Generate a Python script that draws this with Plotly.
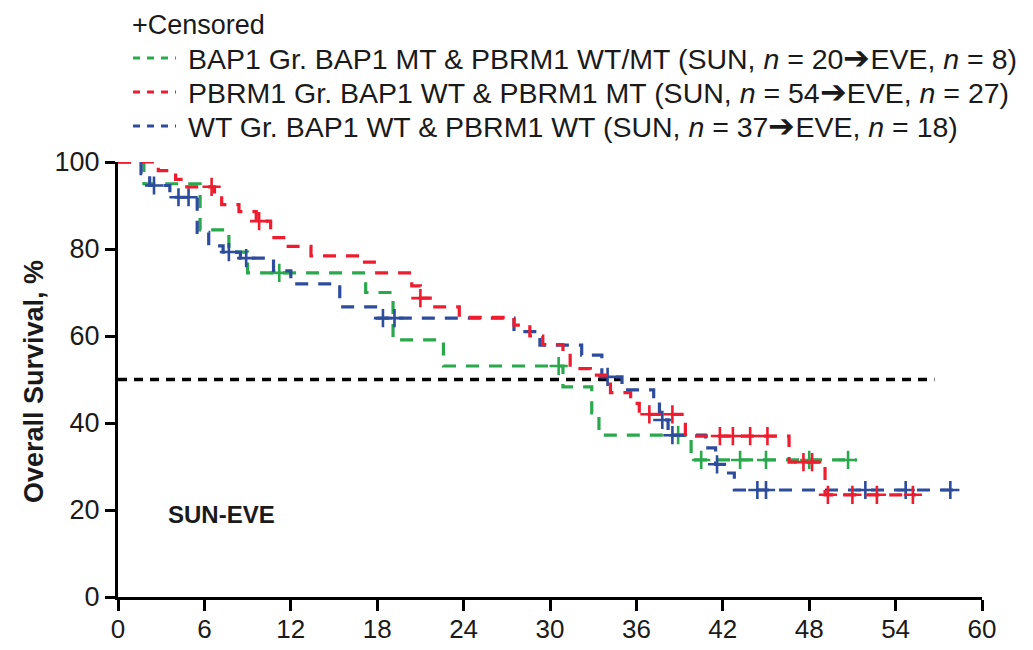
import plotly.graph_objects as go

# ---- data ----
red_t = [0, 2.8, 4.0, 4.6, 6.7, 7.2, 8.4, 9.6, 10.6, 11.7, 13.4, 17.0, 17.8, 20.4, 21.0, 22.0, 23.7, 27.5, 28.6, 29.5, 30.9, 31.4, 32.8, 34.2, 35.6, 36.2, 39.4, 46.6, 49.1, 55.4]
red_s = [100, 98, 96, 94.3, 92.4, 90.2, 88.6, 86.4, 82.6, 80.6, 78.4, 77, 74.5, 71.5, 68.7, 66.7, 64.3, 62.5, 60, 58, 56.5, 52.5, 51, 47, 44.5, 42, 37, 31, 23.5, 23.5]
red_ct = [6.5, 9.8, 21.0, 36.9, 38.5, 41.8, 42.7, 43.9, 45.1, 47.6, 48.2, 49.3, 51.0, 52.7, 55.2]
red_cs = [94.3, 86.4, 68.7, 42, 42, 37, 37, 37, 37, 31, 31, 23.5, 23.5, 23.5, 23.5]

green_t = [0, 1.8, 5.7, 7.7, 9.0, 17.2, 19.1, 22.6, 30.9, 32.9, 33.4, 39.8, 51.3]
green_s = [100, 95, 84.4, 79.3, 74.5, 70, 59.1, 53.1, 48.3, 42.3, 37.2, 31.5, 31.5]
green_ct = [11.2, 30.6, 38.9, 40.5, 43.2, 45.0, 48.0, 50.7]
green_cs = [74.5, 53.1, 37.2, 31.5, 31.5, 31.5, 31.5, 31.5]

blue_t = [0, 1.6, 2.2, 3.6, 5.5, 6.3, 7.3, 8.5, 10.8, 12.0, 15.4, 18.0, 27.5, 29.3, 32.2, 33.6, 35.0, 37.2, 37.6, 38.2, 40.8, 41.5, 42.4, 42.8, 58.4]
blue_s = [100, 97.3, 94.6, 91.9, 83.8, 80.7, 79.3, 77.9, 75, 72, 66.7, 64.1, 61, 57.9, 55.6, 50.6, 47.6, 44.8, 40.7, 37.2, 34.3, 30.5, 28.5, 24.6, 24.6]
blue_ct = [2.5, 4.2, 4.9, 7.7, 8.9, 18.4, 19.2, 34.0, 37.8, 38.5, 41.6, 44.4, 45.0, 51.9, 54.7, 57.8]
blue_cs = [94.6, 91.9, 91.9, 79.3, 77.9, 64.1, 64.1, 50.6, 40.7, 37.2, 30.5, 24.6, 24.6, 24.6, 24.6, 24.6]

x_ticks = [0, 6, 12, 18, 24, 30, 36, 42, 48, 54, 60]
y_ticks = [0, 20, 40, 60, 80, 100]
median_line = [0, 56.7]

ARROW = "<span style='font-size:32px'>➔</span>"
legend_labels = [
    "BAP1 Gr. BAP1 MT &amp; PBRM1 WT/MT (SUN, <i>n</i> = 20" + ARROW + "EVE, <i>n</i> = 8)",
    "PBRM1 Gr. BAP1 WT &amp; PBRM1 MT (SUN, <i>n</i> = 54" + ARROW + "EVE, <i>n</i> = 27)",
    "WT Gr. BAP1 WT &amp; PBRM1 WT (SUN, <i>n</i> = 37" + ARROW + "EVE, <i>n</i> = 18)",
]

GREEN = "#2aa84c"
RED = "#ee1c2e"
BLUE = "#2d4c9c"
colors = [GREEN, RED, BLUE]

fig = go.Figure()

fig.add_trace(go.Scatter(x=median_line, y=[50, 50], mode="lines",
                         line=dict(color="black", width=3.4, dash="9px,7px"),
                         hoverinfo="skip", showlegend=False))

for t, s, ct, cs, c in [(green_t, green_s, green_ct, green_cs, GREEN),
                        (blue_t, blue_s, blue_ct, blue_cs, BLUE),
                        (red_t, red_s, red_ct, red_cs, RED)]:
    fig.add_trace(go.Scatter(x=t, y=s, mode="lines", line_shape="hv",
                             line=dict(color=c, width=3.2, dash="13px,10px"),
                             showlegend=False))
    fig.add_trace(go.Scatter(x=ct, y=cs, mode="markers",
                             marker=dict(symbol="cross-thin", size=13, line=dict(color=c, width=2.6)),
                             showlegend=False))

# page pixel -> paper helpers (page has an 8px body margin)
OFF = 8
X0, X1, Y0, Y1 = 118, 982, 597, 162
W, H = 1033 - OFF, 650 - OFF
def px(xp):
    return (xp - X0) / (X1 - X0)
def py(yp):
    return (Y0 - yp) / (Y0 - Y1)

FONT = "Liberation Sans, Arial, sans-serif"
TXT = "#1a1a1a"
annotations = []
shapes = []

annotations.append(dict(x=px(131), y=py(9), xref="paper", yref="paper", text="+Censored",
                        showarrow=False, xanchor="left", yanchor="top", borderpad=0,
                        font=dict(family=FONT, size=27, color=TXT)))
for i, (lab, c) in enumerate(zip(legend_labels, colors)):
    yy = 58 + i * 34
    shapes.append(dict(type="line", xref="paper", yref="paper", x0=px(133), x1=px(176),
                       y0=py(yy), y1=py(yy), line=dict(color=c, width=3, dash="7px,7px")))
    annotations.append(dict(x=px(186), y=py(yy), xref="paper", yref="paper", text=lab,
                            showarrow=False, xanchor="left", yanchor="middle",
                            font=dict(family=FONT, size=28.5, color=TXT)))

annotations.append(dict(x=px(34), y=py(382), xref="paper", yref="paper", text="<b>Overall Survival, %</b>",
                        textangle=-90, showarrow=False, xanchor="center", yanchor="middle",
                        font=dict(family=FONT, size=27, color=TXT)))
annotations.append(dict(x=px(166), y=py(514), xref="paper", yref="paper", text="<b>SUN-EVE</b>",
                        showarrow=False, xanchor="left", yanchor="middle",
                        font=dict(family=FONT, size=24, color=TXT)))

fig.update_layout(
    width=W, height=H,
    margin=dict(l=X0 - OFF, r=W - (X1 - OFF), t=Y1 - OFF, b=H - (Y0 - OFF), autoexpand=False),
    paper_bgcolor="white", plot_bgcolor="white",
    annotations=annotations, shapes=shapes,
    xaxis=dict(range=[0, 60], tickvals=x_ticks, ticktext=[str(v) for v in x_ticks],
               automargin=False,
               showgrid=False, zeroline=False, showline=True, linecolor="black", linewidth=3,
               ticks="outside", ticklen=11, tickwidth=3, tickcolor="black", ticklabelstandoff=-4,
               tickfont=dict(family=FONT, size=26, color=TXT)),
    yaxis=dict(range=[0, 100], tickvals=y_ticks, ticktext=[str(v) for v in y_ticks],
               automargin=False,
               showgrid=False, zeroline=False, showline=True, linecolor="black", linewidth=3,
               ticks="outside", ticklen=10, tickwidth=3, tickcolor="black",
               tickfont=dict(family=FONT, size=27, color=TXT)),
)

fig.write_html("out.html")
